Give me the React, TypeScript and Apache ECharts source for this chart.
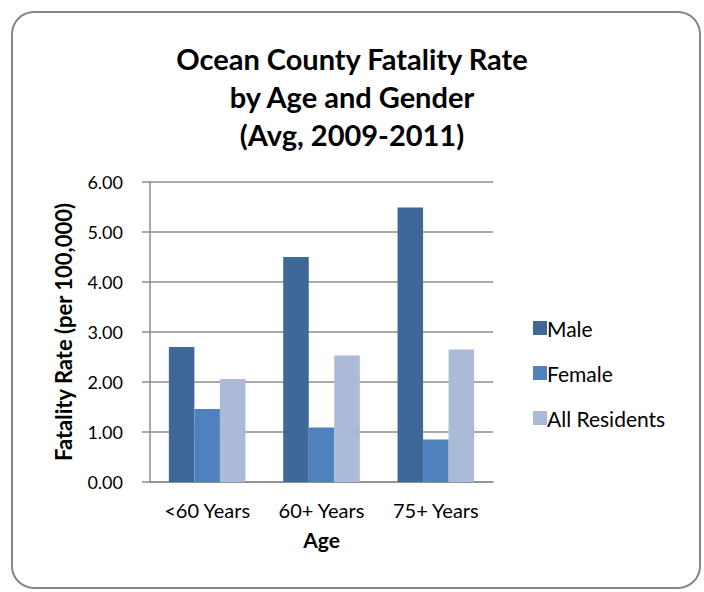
import React, { useEffect, useRef } from "react";
import * as echarts from "echarts";

const categories = ["<60 Years", "60+ Years", "75+ Years"];
const maleValues = [2.7, 4.5, 5.49];
const femaleValues = [1.46, 1.09, 0.85];
const allValues = [2.06, 2.53, 2.65];
const seriesNames = ["Male", "Female", "All Residents"];
const colors = ["#3F6899", "#4F81BD", "#AABAD7"];

const FONT = "Lato, 'Open Sans', sans-serif";

export default function App() {
  const ref = useRef<HTMLDivElement>(null);
  useEffect(() => {
    document.body.style.margin = "0";
    const chart = echarts.init(ref.current!, undefined, { renderer: "svg" });
    const mk = (name: string, data: number[], color: string) => ({
      name,
      type: "bar",
      data,
      barGap: "0%",
      barCategoryGap: "33%",
      itemStyle: { color },
    });
    chart.setOption({
      animation: false,
      backgroundColor: "#ffffff",
      title: {
        text: "Ocean County Fatality Rate\nby Age and Gender\n(Avg, 2009-2011)",
        left: "center",
        top: 39,
        padding: 0,
        textStyle: {
          fontFamily: FONT,
          fontWeight: "bold",
          fontSize: 29,
          lineHeight: 38,
          color: "#000",
        },
      },
      graphic: [
        {
          type: "rect",
          shape: { x: 12, y: 12, width: 688, height: 576, r: 22 },
          style: { fill: "none", stroke: "#868686", lineWidth: 2 },
          silent: true,
        },
      ],
      legend: {
        orient: "vertical",
        left: 533,
        top: 317,
        padding: 0,
        itemWidth: 14,
        itemHeight: 14,
        itemGap: 23,
        icon: "rect",
        textStyle: {
          fontFamily: FONT,
          fontSize: 21,
          lineHeight: 22,
          color: "#000",
          padding: [0, 0, 0, -5],
        },
        data: seriesNames,
      },
      grid: { left: 150, right: 211, top: 182, bottom: 110 },
      xAxis: {
        type: "category",
        data: categories,
        name: "Age",
        nameLocation: "middle",
        nameGap: 47,
        nameTextStyle: { fontFamily: FONT, fontWeight: "bold", fontSize: 21, color: "#000" },
        axisLine: { show: true, lineStyle: { color: "#8c8c8c", width: 1.5 } },
        axisTick: { show: false },
        axisLabel: { fontFamily: FONT, fontSize: 20, color: "#000", margin: 18 },
      },
      yAxis: {
        type: "value",
        min: 0,
        max: 6,
        interval: 1,
        name: "Fatality Rate (per 100,000)",
        nameLocation: "middle",
        nameGap: 76,
        nameTextStyle: { fontFamily: FONT, fontWeight: "bold", fontSize: 22, color: "#000" },
        axisLine: { show: true, lineStyle: { color: "#8c8c8c", width: 1.5 } },
        axisTick: { show: true, length: 8, lineStyle: { color: "#8c8c8c", width: 1.5 } },
        splitLine: { show: true, lineStyle: { color: "#8c8c8c", width: 1.5 } },
        axisLabel: {
          fontFamily: FONT,
          fontSize: 18,
          color: "#000",
          margin: 27,
          formatter: (v: number) => v.toFixed(2),
        },
      },
      series: [
        mk(seriesNames[0], maleValues, colors[0]),
        mk(seriesNames[1], femaleValues, colors[1]),
        mk(seriesNames[2], allValues, colors[2]),
      ],
    });
    return () => chart.dispose();
  }, []);
  return <div ref={ref} style={{ width: 704, height: 592 }} />;
}
